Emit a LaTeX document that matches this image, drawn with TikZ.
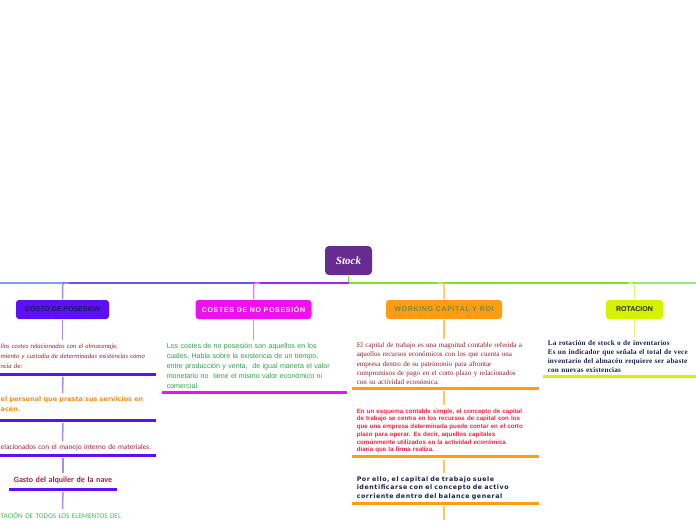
\documentclass[tikz,border=0pt]{standalone}
\usepackage{fontspec}
\setmainfont{Liberation Serif}
\setsansfont{Liberation Sans}
\newfontfamily\carlito{Carlito}
\newfontfamily\dejavu{DejaVu Sans}
\newfontfamily\dejaspaced[LetterSpace=9]{DejaVu Sans}
\newfontfamily\sansspaced[LetterSpace=10]{Liberation Sans}
\newfontfamily\serifspaced[LetterSpace=3]{Liberation Serif}
\usetikzlibrary{calc}

\definecolor{cStock}{HTML}{672C91}
\definecolor{cLnLtBlue}{HTML}{7E9CF2}
\definecolor{cLnBlue}{HTML}{6157F4}
\definecolor{cLnPurple}{HTML}{A722EE}
\definecolor{cLnGreen}{HTML}{80E228}
\definecolor{cLnLtGreen}{HTML}{90EE78}
\definecolor{cBoxA}{HTML}{5B10F8}
\definecolor{cBoxB}{HTML}{EE10EE}
\definecolor{cBoxC}{HTML}{FF9C12}
\definecolor{cBoxD}{HTML}{D4F200}
\definecolor{cBrA}{HTML}{A88CF2}
\definecolor{cBrB}{HTML}{F27CF2}
\definecolor{cBrC}{HTML}{FFC565}
\definecolor{cBrD}{HTML}{E6F27A}
\definecolor{cNavy}{HTML}{1A1F4E}
\definecolor{cOlive}{HTML}{6E8A45}
\definecolor{cDarkRed}{HTML}{A2213A}
\definecolor{cOrange}{HTML}{F28C1E}
\definecolor{cGreen}{HTML}{3DBE4A}
\definecolor{cGreenB}{HTML}{2E9E48}
\definecolor{cSerifRed}{HTML}{8E1C2C}
\definecolor{cRed}{HTML}{F2203E}

\begin{document}
\begin{tikzpicture}[x = 1pt, y = -1pt, % pixel grid, y downwards
        line width = 1.5pt,
        stockbox/.style = {fill = cStock, rounded corners = 4pt,
            minimum width = 47pt, minimum height = 29pt, inner sep = 0pt,
            text = white, font = \fontsize{11}{12}\selectfont\bfseries\itshape},
        topic/.style = {rounded corners = 3pt, minimum height = 19pt,
            inner sep = 0pt, font = \fontsize{7}{8}\selectfont\bfseries},
        item/.style = {anchor = north west, inner xsep = 4pt, inner ysep = 3pt,
            align = left},
        ulA/.style = {draw = cBoxA, line width = 3pt},
        ulB/.style = {draw = cBoxB, line width = 3pt},
        ulC/.style = {draw = cBoxC, line width = 3pt},
        ulD/.style = {draw = cBoxD, line width = 3pt}
    ]
    \useasboundingbox (0,0) rectangle (696,520);
    \clip (0,0) rectangle (696,520);

    % root and main line
    \node[stockbox] (stock) at (348.5,260.5) {Stock};
    \coordinate (hub) at (348.5,283);

    % topics
    \node[topic, fill = cBoxA, minimum width = 93pt, text = cNavy] (posesion)
        at (62.5,309.5) {\sffamily\itshape COSTO DE POSESION};
    \node[topic, fill = cBoxB, minimum width = 116pt, text = white] (noposesion)
        at (253.5,309.5) {\sansspaced COSTES DE NO POSESIÓN};
    \node[topic, fill = cBoxC, minimum width = 116pt, text = cOlive] (wcapital)
        at (444,309.5) {\sansspaced WORKING CAPITAL Y ROI};
    \node[topic, fill = cBoxD, minimum width = 57pt, text = black!85] (rotacion)
        at (634.5,309.5) {\sffamily ROTACION};

    \draw[cLnGreen] (stock.south) -- (hub);
    \draw[cLnLtBlue] (0,283) -- (posesion.north |- hub);
    \draw[cLnBlue] (posesion.north |- hub) -- (noposesion.north |- hub);
    \draw[cLnPurple] (noposesion.north |- hub) -- (hub);
    \draw[cLnGreen] (hub) -- (rotacion.north |- hub);
    \draw[cLnLtGreen] (rotacion.north |- hub) -- (696,283);

    \draw[cBrA, rounded corners = 3pt] ($(posesion.north |- hub)+(6,0)$)
        -| (posesion.north);
    \draw[cBrB, rounded corners = 3pt] ($(noposesion.north |- hub)+(6,0)$)
        -| (noposesion.north);
    \draw[cBrC, rounded corners = 3pt] ($(wcapital.north |- hub)+(-6,0)$)
        -| (wcapital.north);
    \draw[cBrD, rounded corners = 3pt] ($(rotacion.north |- hub)+(-6,0)$)
        -| (rotacion.north);

    % costo de posesion
    \node[item, text width = 156pt, text = cDarkRed,
        font = \carlito\fontsize{6.6}{10}\selectfont\itshape] (c1a) at (-4,340)
        {llos costes relacionados con el almacenaje,\\
         miento y custodia de determinadas existencias como\\
         ncia de:};
    \node[item, text width = 156pt, text = cOrange,
        font = \dejavu\fontsize{6.5}{10}\selectfont\bfseries] (c1b) at (-4,393)
        {el personal que presta sus servicios en\\ acén.};
    \node[item, text width = 156pt, text = cDarkRed,
        font = \carlito\fontsize{7.3}{9}\selectfont] (c1c) at (-4,441)
        {elacionados con el manejo interno de materiales.};
    \node[item, anchor = north, text width = 104pt, align = center, text = cDarkRed,
        font = \carlito\fontsize{8}{9}\selectfont\bfseries] (c1d) at (63,473)
        {Gasto del alquiler de la nave};
    \node[item, text width = 156pt, text = cGreen,
        font = \carlito\fontsize{7.2}{9}\selectfont] (c1e) at (-4,509)
        {TACIÓN DE TODOS LOS ELEMENTOS DEL};

    \draw[ulA] (-4,374) -- (156,374);
    \draw[ulA] (-4,420) -- (156,420);
    \draw[ulA] (-4,455) -- (156,455);
    \draw[ulA] (9,489) -- (117,489);
    \draw[cBrA] (posesion.south) -- (posesion.south |- c1a.north);
    \draw[cBrA] (63,377) -- (posesion.south |- c1b.north);
    \draw[cBrA] (63,423) -- (posesion.south |- c1c.north);
    \draw[cBrA] (63,458) -- (c1d.north);
    \draw[cBrA] (63,492) -- (posesion.south |- c1e.north);

    % costes de no posesion
    \node[item, text width = 175pt, text = cGreenB,
        font = \sffamily\fontsize{7.1}{10}\selectfont] (c2a) at (162,340)
        {Los costes de no posesión son aquellos en los\\
         cuales, Habla sobre la existencia de un tiempo,\\
         entre producción y venta,~ de igual manera el valor\\
         monetario no~ tiene el mismo valor económico ni\\
         comercial.};
    \draw[ulB] (c2a.south west) -- (c2a.south east);
    \draw[cBrB] (noposesion.south) -- (noposesion.south |- c2a.north);

    % working capital y roi
    \node[item, text width = 177pt, text = cSerifRed,
        font = \fontsize{7.1}{9.2}\selectfont] (c3a) at (352,339)
        {El capital de trabajo es una magnitud contable referida a\\
         aquellos recursos económicos con los que cuenta una\\
         empresa dentro de su patrimonio para afrontar\\
         compromisos de pago en el corto plazo y relacionados\\
         con su actividad económica.};
    \node[item, text width = 177pt, text = cRed,
        font = \sffamily\fontsize{6.2}{7.7}\selectfont\bfseries] (c3b) at (352,405)
        {En un esquema contable simple, el concepto de capital\\
         de trabajo se centra en los recursos de capital con los\\
         que una empresa determinada puede contar en el corto\\
         plazo para operar. Es decir, aquellos capitales\\
         comúnmente utilizados en la actividad económica\\
         diaria que la firma realiza.};
    \node[item, text width = 177pt, text = cNavy,
        font = \dejaspaced\fontsize{6.3}{8.4}\selectfont\bfseries] (c3c) at (352,473)
        {Por ello, el capital de trabajo suele\\
         identificarse con el concepto de activo\\
         corriente dentro del balance general};
    \coordinate (c3end) at (444,520);
    \draw[ulC] (c3a.south west) -- (c3a.south east);
    \draw[ulC] (c3b.south west) -- (c3b.south east);
    \draw[ulC] (c3c.south west) -- (c3c.south east);
    \draw[cBrC] (wcapital.south) -- (wcapital.south |- c3a.north);
    \draw[cBrC] ($(c3a.south west -| wcapital.south)+(0,3)$) -- (wcapital.south |- c3b.north);
    \draw[cBrC] ($(c3b.south west -| wcapital.south)+(0,3)$) -- (wcapital.south |- c3c.north);
    \draw[cBrC] ($(c3c.south west -| wcapital.south)+(0,3)$) -- (c3end);

    % rotacion
    \node[item, text width = 160pt, text = cNavy,
        font = \serifspaced\fontsize{7.2}{9}\selectfont\bfseries] (c4a) at (543,337)
        {La rotación de stock o de inventarios\\
         Es un indicador que señala el total de vece\\
         inventario del almacén requiere ser abaste\\
         con nuevas existencias};
    \draw[ulD] (c4a.south west) -- (c4a.south east);
    \draw[cBrD] (rotacion.south) -- (rotacion.south |- c4a.north);
\end{tikzpicture}
\end{document}
